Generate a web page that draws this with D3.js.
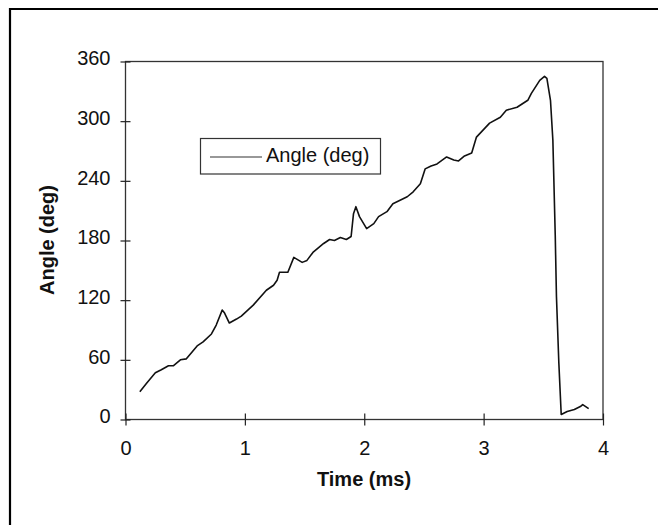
<!DOCTYPE html>
<html>
<head>
<meta charset="utf-8">
<script src="https://cdn.jsdelivr.net/npm/d3@7"></script>
<style>
  body { margin: 0; background: #fff; }
  svg text { font-family: Arial, "Liberation Sans", sans-serif; fill: #111; }
</style>
</head>
<body>
<svg id="chart" width="658" height="525"></svg>
<script>
// values
var timeMs = [0.12, 0.18, 0.25, 0.30, 0.36, 0.40, 0.46, 0.51, 0.60, 0.65, 0.72, 0.76, 0.81, 0.83, 0.87,
    0.93, 0.97, 1.07, 1.18, 1.24, 1.27, 1.29, 1.36, 1.41, 1.48, 1.52, 1.57, 1.66, 1.71, 1.75,
    1.80, 1.85, 1.89, 1.91, 1.93, 1.96, 2.02, 2.08, 2.12, 2.19, 2.24, 2.36, 2.41, 2.47, 2.51,
    2.56, 2.61, 2.69, 2.75, 2.79, 2.84, 2.90, 2.94, 3.05, 3.14, 3.19, 3.28, 3.37, 3.40, 3.47,
    3.51, 3.53, 3.56, 3.58, 3.60, 3.61, 3.63, 3.65, 3.70, 3.76, 3.81, 3.83, 3.88];
var angleDeg = [28, 37, 47, 50, 54, 54, 60, 61, 74, 78, 86, 95, 110, 107, 97,
    101, 104, 115, 130, 135, 140, 148, 148, 163, 158, 160, 168, 177, 181, 180,
    183, 181, 184, 207, 214, 204, 192, 197, 204, 209, 217, 224, 229, 237, 252,
    255, 257, 264, 261, 260, 265, 268, 284, 298, 304, 311, 314, 321, 328, 341,
    345, 343, 321, 281, 185, 124, 57, 5, 8, 10, 13, 15, 11];
var xTicks = [0, 1, 2, 3, 4];
var yTicks = [0, 60, 120, 180, 240, 300, 360];
var seriesName = "Angle (deg)";

var svg = d3.select("#chart");
// plot box edges (note: "top" is reserved on window, so use other names)
var plotLeft = 125.5, plotRight = 603, plotTop = 61.5, plotBottom = 419.5;

var x = d3.scaleLinear().domain([0, 4]).range([plotLeft, plotRight]);
var y = d3.scaleLinear().domain([0, 360]).range([plotBottom, plotTop]);

// outer frame (only left and top edges visible)
svg.append("path")
    .attr("d", "M10,525 L10,9 L658,9")
    .attr("fill", "none")
    .attr("stroke", "#000")
    .attr("stroke-width", 2.2);

// plot box
svg.append("rect")
    .attr("x", plotLeft).attr("y", plotTop)
    .attr("width", plotRight - plotLeft).attr("height", plotBottom - plotTop)
    .attr("fill", "none")
    .attr("stroke", "#333")
    .attr("stroke-width", 1.3);

// y axis with ticks crossing the line
var yAxis = svg.append("g")
    .attr("transform", "translate(" + plotLeft + ",0)")
    .call(d3.axisLeft(y).tickValues(yTicks).tickFormat(d3.format("d")).tickSize(5).tickPadding(10));
yAxis.select(".domain").remove();
yAxis.selectAll(".tick line").attr("x1", 5).attr("stroke", "#222").attr("stroke-width", 1.2);
yAxis.selectAll(".tick text")
    .attr("dy", "0.16em")
    .style("font-size", "20px")
    .style("font-family", "Arial, 'Liberation Sans', sans-serif")
    .attr("fill", "#111");

// x axis
var xAxis = svg.append("g")
    .attr("transform", "translate(0," + plotBottom + ")")
    .call(d3.axisBottom(x).tickValues(xTicks).tickFormat(d3.format("d")).tickSize(6).tickPadding(15));
xAxis.select(".domain").remove();
xAxis.selectAll(".tick line").attr("y1", -6).attr("stroke", "#222").attr("stroke-width", 1.2);
xAxis.selectAll(".tick text")
    .style("font-size", "20px")
    .style("font-family", "Arial, 'Liberation Sans', sans-serif")
    .attr("fill", "#111");

// the curve
var data = timeMs.map(function (t, i) { return { t: t, a: angleDeg[i] }; });
var line = d3.line()
    .x(function (d) { return x(d.t); })
    .y(function (d) { return y(d.a); });
svg.append("path")
    .datum(data)
    .attr("d", line)
    .attr("fill", "none")
    .attr("stroke", "#111")
    .attr("stroke-width", 1.6)
    .attr("stroke-linejoin", "round");

// axis titles
svg.append("text")
    .attr("x", 364).attr("y", 486)
    .attr("text-anchor", "middle")
    .style("font-size", "20px")
    .style("font-weight", "bold")
    .text("Time (ms)");

svg.append("text")
    .attr("transform", "translate(54,240) rotate(-90)")
    .attr("text-anchor", "middle")
    .style("font-size", "20px")
    .style("font-weight", "bold")
    .text("Angle (deg)");

// legend
var legend = svg.append("g");
legend.append("rect")
    .attr("x", 200.5).attr("y", 138.5)
    .attr("width", 180).attr("height", 35.5)
    .attr("fill", "#fff")
    .attr("stroke", "#333")
    .attr("stroke-width", 1.2);
legend.append("line")
    .attr("x1", 210).attr("x2", 262)
    .attr("y1", 157).attr("y2", 157)
    .attr("stroke", "#333")
    .attr("stroke-width", 1.2);
legend.append("text")
    .attr("x", 266).attr("y", 162)
    .style("font-size", "20px")
    .text(seriesName);
</script>
</body>
</html>
